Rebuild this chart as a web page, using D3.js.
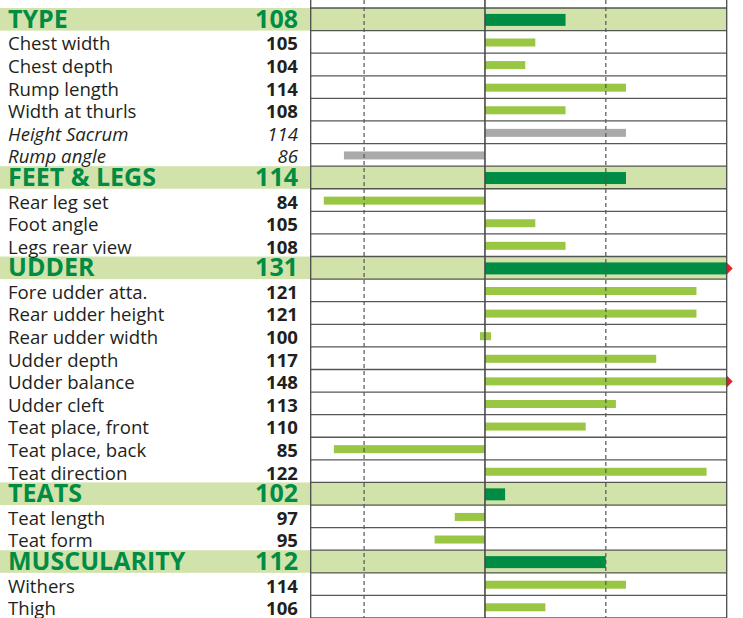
<!DOCTYPE html>
<html lang="en">
<head>
  <meta charset="UTF-8">
  <title></title>
  <script src="https://d3js.org/d3.v7.min.js"></script>
  <style>
    body { margin: 0; background: #fff; }
    text { font-family: "Open Sans", sans-serif; }
  </style>
</head>
<body>
  <svg width="743" height="618"></svg>
  <script>
    const labels = ["TYPE", "Chest width", "Chest depth", "Rump length", "Width at thurls", "Height Sacrum", "Rump angle",
      "FEET & LEGS", "Rear leg set", "Foot angle", "Legs rear view",
      "UDDER", "Fore udder atta.", "Rear udder height", "Rear udder width", "Udder depth", "Udder balance", "Udder cleft",
      "Teat place, front", "Teat place, back", "Teat direction",
      "TEATS", "Teat length", "Teat form",
      "MUSCULARITY", "Withers", "Thigh"];
    const values = [108, 105, 104, 114, 108, 114, 86,
      114, 84, 105, 108,
      131, 121, 121, 100, 117, 148, 113,
      110, 85, 122,
      102, 97, 95,
      112, 114, 106];
    // g = group total, t = trait, i = italic (grey) trait
    const kinds = ["g", "t", "t", "t", "t", "i", "i",
      "g", "t", "t", "t",
      "g", "t", "t", "t", "t", "t", "t",
      "t", "t", "t",
      "g", "t", "t",
      "g", "t", "t"];
    const gridTicks = [88, 112];

    const data = labels.map((label, i) => ({label, value: values[i], kind: kinds[i], i}));

    const svg = d3.select("svg");
    const x = d3.scaleLinear().domain([82.7, 124]).range([310.7, 726.7]);
    const y = d3.scaleBand().domain(d3.range(data.length)).range([8, 618]);
    const rh = y.bandwidth();

    // group background bands
    svg.selectAll("rect.band")
      .data(data.filter(d => d.kind === "g"))
      .join("rect")
      .attr("x", 0)
      .attr("y", d => y(d.i))
      .attr("width", x(124))
      .attr("height", rh)
      .attr("fill", "#d1e3aa");

    // bars
    const base = x(100);
    const barH = d => d.kind === "g" ? 12 : 8;
    svg.selectAll("rect.bar")
      .data(data)
      .join("rect")
      .attr("x", d => d.value === 100 ? base - 5 : x(Math.min(d.value, 124 - 0.05) < 100 ? d.value : 100))
      .attr("y", d => y(d.i) + rh / 2 - barH(d) / 2 + 0.6)
      .attr("width", d => d.value === 100 ? 11 : Math.abs(x(Math.min(d.value, 124)) - base))
      .attr("height", barH)
      .attr("fill", d => d.kind === "g" ? "#008c44" : d.kind === "i" ? "#aaaaaa" : "#99c643");

    // overflow arrows
    svg.selectAll("path.arrow")
      .data(data.filter(d => d.value > 124))
      .join("path")
      .attr("d", d => {
        const cy = y(d.i) + rh / 2 + 0.6;
        return `M${x(124)},${cy - 6}L${x(124) + 6},${cy}L${x(124)},${cy + 6}Z`;
      })
      .attr("fill", "#e3222a");

    // horizontal row lines
    svg.selectAll("line.row")
      .data(d3.range(data.length + 1))
      .join("line")
      .attr("x1", x.range()[0])
      .attr("x2", x(124))
      .attr("y1", i => i < data.length ? y(i) : 618)
      .attr("y2", i => i < data.length ? y(i) : 618)
      .attr("stroke", "#3a3a3a")
      .attr("stroke-opacity", 0.85)
      .attr("stroke-width", 1.3);

    // vertical lines
    svg.selectAll("line.v")
      .data([82.7, 100, 124])
      .join("line")
      .attr("x1", d => x(d)).attr("x2", d => x(d))
      .attr("y1", 0).attr("y2", 618)
      .attr("stroke", "#4a4a4a")
      .attr("stroke-width", d => d === 100 ? 1.6 : 1.3);

    svg.selectAll("line.dash")
      .data(gridTicks)
      .join("line")
      .attr("x1", d => x(d)).attr("x2", d => x(d))
      .attr("y1", 0).attr("y2", 618)
      .attr("stroke", "#555")
      .attr("stroke-width", 1.2)
      .attr("stroke-dasharray", "4,3");

    // labels
    const rows = svg.selectAll("g.lab")
      .data(data)
      .join("g")
      .attr("transform", d => `translate(0,${y(d.i) + rh - 2.8})`);

    rows.append("text")
      .attr("x", 8)
      .attr("font-size", d => d.kind === "g" ? 25 : 18.6)
      .attr("font-weight", d => d.kind === "g" ? 700 : 400)
      .attr("font-style", d => d.kind === "i" ? "italic" : "normal")
      .attr("fill", d => d.kind === "g" ? "#008c44" : "#231f20")
      .text(d => d.label);

    rows.append("text")
      .attr("x", 298)
      .attr("text-anchor", "end")
      .attr("font-size", d => d.kind === "g" ? 25 : 18.6)
      .attr("font-weight", d => d.kind === "i" ? 400 : 700)
      .attr("font-style", d => d.kind === "i" ? "italic" : "normal")
      .attr("fill", d => d.kind === "g" ? "#008c44" : "#231f20")
      .text(d => d.value);
  </script>
</body>
</html>
